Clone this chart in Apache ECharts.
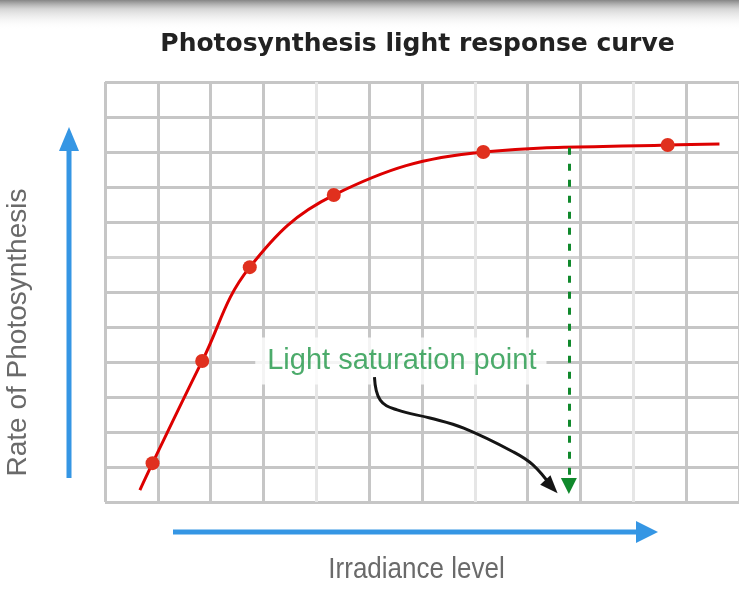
<!DOCTYPE html>
<html>
<head>
<meta charset="utf-8">
<script src="https://cdn.jsdelivr.net/npm/echarts@6/dist/echarts.min.js"></script>
<style>
  html, body { margin: 0; padding: 0; background: #fff; }
  #chart { width: 739px; height: 591px; }
</style>
</head>
<body>
<div id="chart"></div>
<script>
// Light response curve: irradiance (arbitrary grid units) vs rate of photosynthesis
const irradiance = [0.66, 0.90, 1.84, 2.74, 4.33, 7.16, 10.65, 11.63];
const rate       = [0.34, 1.11, 4.03, 6.71, 8.77, 10.00, 10.20, 10.23];
const measured   = [false, true, true, true, true, true, true, false];

// Light saturation point (vertical dashed marker)
const saturationIrradiance = 8.78;
const saturationRate = 10.12;
const saturationFloor = 0.46;

// Pointer arrow from the annotation to the saturation point
const pointerX = [5.10, 5.21, 5.53, 6.15, 6.79, 7.73, 8.10, 8.45];
const pointerY = [3.57, 2.91, 2.63, 2.40, 2.11, 1.43, 1.06, 0.44];

// Annotation anchor
const noteX = [5.60];
const noteY = [4.03];
const noteText = 'Light saturation point';

const titleText = 'Photosynthesis light response curve';
const xName = 'Irradiance level';
const yName = 'Rate of Photosynthesis';

const GRID = '#c6c6c6';
const GRID_LIGHT = '#e6e6e6';
const BLUE = '#3596e4';

const curveData = irradiance.map((x, i) => ({
  value: [x, rate[i]],
  symbol: measured[i] ? 'circle' : 'none'
}));

const pointerData = pointerX.map((x, i) => {
  const last = i === pointerX.length - 1;
  return last
    ? { value: [x, pointerY[i]], symbol: 'triangle', symbolSize: [14, 18], symbolRotate: -137 }
    : { value: [x, pointerY[i]], symbol: 'none' };
});

const chart = echarts.init(document.getElementById('chart'), null, { renderer: 'canvas' });

chart.setOption({
  animation: false,
  backgroundColor: '#ffffff',
  grid: { left: 105, top: 82, width: 640, height: 420 },
  xAxis: {
    type: 'value', min: 0, max: 12, interval: 1,
    axisLine: { show: false }, axisTick: { show: false }, axisLabel: { show: false },
    splitLine: {
      show: true,
      lineStyle: {
        width: 3,
        color: [GRID, GRID, GRID, GRID, GRID_LIGHT, GRID, GRID, GRID_LIGHT, GRID, GRID, GRID_LIGHT, GRID, GRID]
      }
    }
  },
  yAxis: {
    type: 'value', min: 0, max: 12, interval: 1,
    axisLine: { show: false }, axisTick: { show: false }, axisLabel: { show: false },
    splitLine: {
      show: true,
      lineStyle: {
        width: 3,
        color: [GRID, GRID, GRID, GRID, GRID, GRID, GRID, '#d2d2d2', GRID, GRID, GRID, GRID, GRID]
      }
    }
  },
  series: [
    {
      name: 'note',
      type: 'scatter',
      z: 1,
      silent: true,
      symbolSize: 0,
      data: noteX.map((x, i) => [x, noteY[i]]),
      label: {
        show: true,
        position: 'inside',
        formatter: noteText,
        fontFamily: '"Liberation Sans", Arial, sans-serif',
        fontSize: 29,
        color: '#1f9646',
        backgroundColor: '#ffffff',
        padding: [3, 10, 15, 12]
      }
    },
    {
      name: 'rate',
      type: 'line',
      z: 3,
      smooth: 0.4,
      data: curveData,
      symbolSize: 14,
      lineStyle: { color: '#dd0000', width: 3 },
      itemStyle: { color: '#e0301e' },
      markLine: {
        silent: true,
        symbolSize: [16, 16],
        label: { show: false },
        lineStyle: { color: '#10892c', width: 3, type: [7, 9] },
        data: [[
          { coord: [saturationIrradiance, saturationRate], symbol: 'none' },
          { coord: [saturationIrradiance, saturationFloor], symbol: 'triangle' }
        ]]
      }
    },
    {
      name: 'pointer',
      type: 'line',
      z: 4,
      smooth: 0.4,
      silent: true,
      data: pointerData,
      lineStyle: { color: '#151515', width: 3 },
      itemStyle: { color: '#151515' }
    }
  ],
  graphic: [
    {
      type: 'rect', z: 100, silent: true,
      shape: { x: 0, y: 0, width: 739, height: 30 },
      style: {
        fill: new echarts.graphic.LinearGradient(0, 0, 0, 1, [
          { offset: 0, color: 'rgba(120,120,120,0.9)' },
          { offset: 0.3, color: 'rgba(180,180,180,0.55)' },
          { offset: 1, color: 'rgba(255,255,255,0)' }
        ])
      }
    },
    {
      type: 'text', z: 100, x: 417.5, y: 44.5,
      style: {
        text: titleText,
        font: 'bold 25px "DejaVu Sans", sans-serif',
        fill: '#222222',
        align: 'center', verticalAlign: 'middle'
      }
    },
    {
      type: 'text', z: 100, x: 416.5, y: 570.5, scaleY: 1.1,
      style: {
        text: xName,
        font: '26px "Liberation Sans", Arial, sans-serif',
        fill: '#6a6a6a',
        align: 'center', verticalAlign: 'middle'
      }
    },
    {
      type: 'text', z: 100, x: 18, y: 332.5, rotation: Math.PI / 2,
      style: {
        text: yName,
        font: '28px "Liberation Sans", Arial, sans-serif',
        fill: '#6a6a6a',
        align: 'center', verticalAlign: 'middle'
      }
    },
    {
      type: 'line', z: 100, silent: true,
      shape: { x1: 69, y1: 478, x2: 69, y2: 146 },
      style: { stroke: BLUE, lineWidth: 5 }
    },
    {
      type: 'polygon', z: 100, silent: true,
      shape: { points: [[69, 127], [59, 151], [79, 151]] },
      style: { fill: BLUE }
    },
    {
      type: 'line', z: 100, silent: true,
      shape: { x1: 173, y1: 532, x2: 640, y2: 532 },
      style: { stroke: BLUE, lineWidth: 5 }
    },
    {
      type: 'polygon', z: 100, silent: true,
      shape: { points: [[658, 532], [636, 521], [636, 543]] },
      style: { fill: BLUE }
    }
  ]
});
</script>
</body>
</html>
